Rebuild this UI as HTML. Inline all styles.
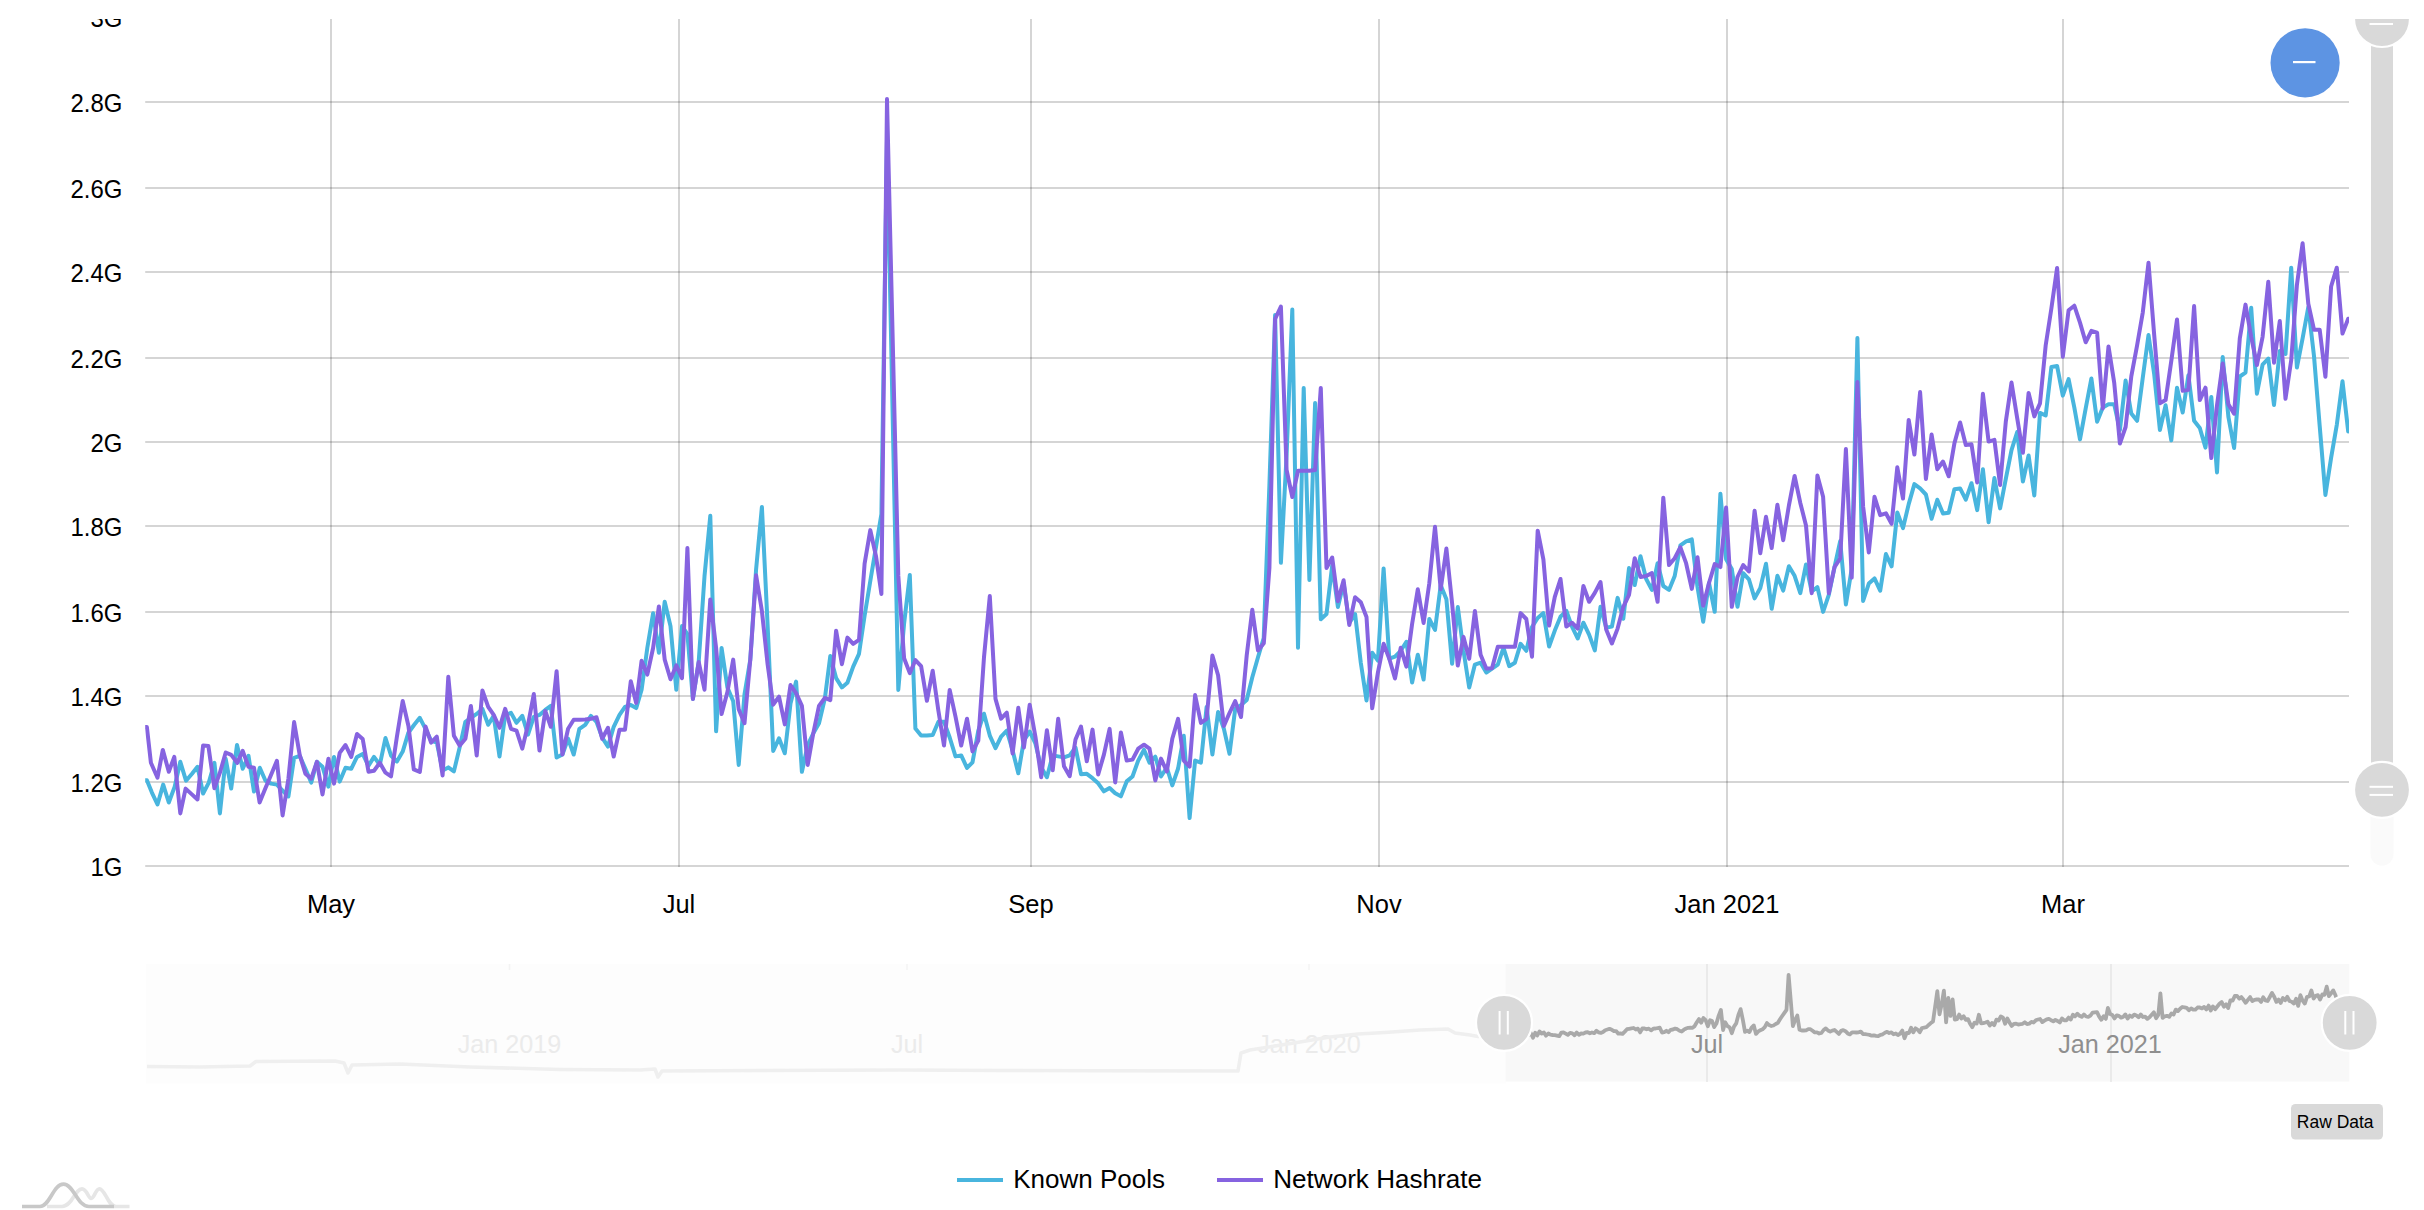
<!DOCTYPE html>
<html><head><meta charset="utf-8"><title>Hashrate chart</title>
<style>
html,body{margin:0;padding:0;background:#fff;}
body{width:2424px;height:1210px;overflow:hidden;position:relative;font-family:"Liberation Sans",sans-serif;}
svg{position:absolute;left:0;top:0;display:block;}
text{font-family:"Liberation Sans",sans-serif;}
.ax text{font-size:26.4px;fill:#000;}
.grid line{stroke:#000;stroke-opacity:0.165;stroke-width:2;}
</style></head><body>
<svg width="2424" height="1210" viewBox="0 0 2424 1210">
<defs>
<clipPath id="plot"><rect x="145.2" y="19" width="2203.8" height="848"/></clipPath>
<clipPath id="top"><rect x="0" y="19" width="2424" height="1191"/></clipPath>
</defs>
<rect x="0" y="0" width="2424" height="1210" fill="#fff"/>
<g clip-path="url(#top)">
<g class="grid"><line x1="145.2" x2="2349" y1="866" y2="866"/><line x1="145.2" x2="2349" y1="782" y2="782"/><line x1="145.2" x2="2349" y1="696" y2="696"/><line x1="145.2" x2="2349" y1="612" y2="612"/><line x1="145.2" x2="2349" y1="526" y2="526"/><line x1="145.2" x2="2349" y1="442" y2="442"/><line x1="145.2" x2="2349" y1="358" y2="358"/><line x1="145.2" x2="2349" y1="272" y2="272"/><line x1="145.2" x2="2349" y1="188" y2="188"/><line x1="145.2" x2="2349" y1="102" y2="102"/><line x1="331" x2="331" y1="19" y2="867"/><line x1="679" x2="679" y1="19" y2="867"/><line x1="1031" x2="1031" y1="19" y2="867"/><line x1="1379" x2="1379" y1="19" y2="867"/><line x1="1727" x2="1727" y1="19" y2="867"/><line x1="2063" x2="2063" y1="19" y2="867"/></g>
<g class="ax"><text transform="translate(122.4,875.9) scale(0.907,1)" text-anchor="end">1G</text><text transform="translate(122.4,791.9) scale(0.907,1)" text-anchor="end">1.2G</text><text transform="translate(122.4,705.9) scale(0.907,1)" text-anchor="end">1.4G</text><text transform="translate(122.4,621.9) scale(0.907,1)" text-anchor="end">1.6G</text><text transform="translate(122.4,535.9) scale(0.907,1)" text-anchor="end">1.8G</text><text transform="translate(122.4,451.9) scale(0.907,1)" text-anchor="end">2G</text><text transform="translate(122.4,367.9) scale(0.907,1)" text-anchor="end">2.2G</text><text transform="translate(122.4,281.9) scale(0.907,1)" text-anchor="end">2.4G</text><text transform="translate(122.4,197.9) scale(0.907,1)" text-anchor="end">2.6G</text><text transform="translate(122.4,111.9) scale(0.907,1)" text-anchor="end">2.8G</text><text transform="translate(122.4,27.3) scale(0.907,1)" text-anchor="end">3G</text><text transform="translate(331,912.7) scale(0.965,1)" text-anchor="middle">May</text><text transform="translate(679,912.7) scale(0.965,1)" text-anchor="middle">Jul</text><text transform="translate(1031,912.7) scale(0.965,1)" text-anchor="middle">Sep</text><text transform="translate(1379,912.7) scale(0.965,1)" text-anchor="middle">Nov</text><text transform="translate(1727,912.7) scale(0.965,1)" text-anchor="middle">Jan 2021</text><text transform="translate(2063,912.7) scale(0.965,1)" text-anchor="middle">Mar</text></g>
<g clip-path="url(#plot)" fill="none" stroke-linejoin="round" stroke-linecap="round" stroke-width="4">
<polyline stroke="#48b5de" points="145.0,780.3 146.9,780.3 151.9,792.6 157.5,804.5 163.2,784.6 168.8,802.5 174.7,786.6 180.3,761.8 186.0,780.7 192.0,773.7 197.5,766.8 203.1,793.5 208.8,782.6 214.4,762.8 219.9,813.4 225.7,758.8 231.2,788.6 237.0,745.0 242.7,768.8 248.5,755.9 254.0,791.6 259.8,767.8 265.5,780.7 271.1,783.6 276.9,784.6 282.6,790.6 288.4,796.5 294.1,757.8 299.7,755.9 305.4,768.8 311.2,782.6 316.9,761.8 322.5,766.8 328.4,786.6 334.0,756.9 339.7,781.6 345.5,767.8 351.2,768.8 357.0,756.9 362.7,753.9 368.5,765.8 374.0,756.9 379.8,764.8 385.5,738.0 391.0,755.5 396.9,761.5 402.7,751.6 408.4,732.7 414.2,724.8 419.8,717.8 425.5,728.8 431.1,740.7 436.8,742.6 442.6,770.4 448.3,767.4 453.9,771.4 459.6,747.6 465.4,721.8 470.9,717.8 476.7,713.9 482.4,708.9 488.2,724.8 493.7,715.9 499.5,756.5 505.2,714.9 511.0,712.9 516.5,722.8 522.3,715.9 528.0,734.7 533.8,716.9 539.5,714.9 545.3,709.9 550.8,705.9 556.6,757.5 562.4,754.5 568.1,738.7 573.7,754.5 579.4,728.8 585.2,724.8 590.9,715.9 596.5,721.8 602.2,737.7 608.0,746.6 613.7,726.8 619.5,714.9 625.0,706.9 630.8,705.0 636.2,708.1 641.6,689.7 647.3,648.0 653.1,613.3 658.9,652.7 664.7,601.8 670.5,626.1 676.3,689.7 682.0,626.1 687.4,634.2 692.9,698.9 698.7,661.9 704.5,576.3 710.3,515.7 716.1,731.3 721.6,648.0 727.4,687.4 733.2,701.2 738.7,764.9 744.5,694.3 750.3,659.6 756.1,569.4 761.9,506.9 767.6,624.9 773.2,751.0 779.0,738.3 784.8,753.3 790.5,703.6 796.1,681.6 801.9,771.8 807.7,745.2 813.2,733.6 819.0,723.2 824.8,698.9 830.3,656.1 836.1,678.1 841.9,687.4 847.4,682.7 853.2,666.6 859.0,653.8 864.6,615.7 870.3,581.0 876.1,546.3 881.4,514.0 887.0,140.0 898.3,689.9 904.1,623.5 909.8,574.9 915.4,728.6 921.1,735.6 926.9,735.6 932.7,735.0 938.4,721.7 944.0,721.7 949.7,737.5 955.5,756.4 961.2,755.4 967.0,767.9 972.5,762.3 978.3,730.6 984.0,713.7 989.8,735.6 995.5,748.1 1001.1,736.6 1006.8,730.6 1012.6,750.4 1018.3,773.3 1023.9,740.5 1029.7,731.6 1035.4,743.5 1041.2,767.3 1046.9,777.2 1052.7,755.4 1058.2,756.4 1064.0,757.4 1069.7,755.4 1075.5,747.5 1081.0,774.2 1086.8,773.8 1092.5,778.2 1098.2,783.3 1103.9,791.3 1109.6,788.0 1115.2,793.3 1120.9,796.3 1126.7,781.4 1132.5,776.5 1138.2,760.6 1144.0,749.7 1149.5,762.6 1155.3,756.6 1161.0,776.5 1166.8,767.5 1172.3,785.4 1178.1,768.5 1183.8,735.8 1189.6,818.1 1195.1,760.6 1200.9,762.6 1206.6,707.0 1212.4,754.6 1218.1,712.0 1223.9,728.9 1229.5,753.7 1235.2,709.0 1241.0,705.1 1246.7,700.1 1252.3,677.3 1258.0,657.2 1263.7,638.0 1269.4,485.0 1275.1,315.0 1280.9,562.8 1286.6,455.0 1292.3,309.6 1298.0,647.8 1303.7,388.0 1309.4,580.0 1315.1,403.0 1320.8,619.2 1326.5,614.0 1332.2,565.5 1337.9,607.1 1343.6,583.3 1349.3,623.0 1355.1,614.1 1360.8,662.7 1366.5,700.4 1372.2,652.7 1377.9,660.7 1383.6,568.4 1389.3,658.7 1395.0,656.7 1400.7,650.8 1406.4,641.8 1412.1,682.5 1417.8,654.7 1423.6,679.5 1429.3,619.0 1435.0,629.9 1440.7,585.3 1446.4,599.2 1452.1,663.7 1457.8,607.1 1463.5,650.8 1469.2,687.5 1474.9,664.6 1480.6,662.7 1486.3,672.6 1492.0,668.6 1497.8,664.6 1503.5,647.8 1509.2,666.2 1514.9,662.7 1520.6,643.8 1526.3,650.8 1532.0,627.0 1537.7,618.0 1543.4,613.1 1549.1,646.5 1554.8,630.6 1560.5,616.7 1566.3,610.8 1572.0,626.6 1577.7,638.5 1583.4,622.7 1589.1,634.6 1594.8,650.4 1600.5,606.8 1606.2,627.6 1611.9,626.6 1617.6,597.9 1623.3,618.7 1629.0,568.1 1634.7,585.0 1640.5,556.2 1646.2,579.0 1651.9,589.9 1657.6,563.2 1663.3,586.0 1669.0,589.9 1674.7,576.0 1680.4,545.3 1686.1,541.3 1691.8,539.3 1697.5,587.0 1703.2,621.7 1709.0,583.0 1714.7,611.8 1720.4,493.7 1726.1,559.2 1731.8,569.1 1737.5,606.8 1743.2,573.1 1748.9,579.3 1754.6,598.4 1760.3,588.0 1766.0,563.7 1771.7,608.8 1777.4,575.8 1783.2,590.6 1788.9,566.3 1794.6,575.8 1800.3,593.2 1806.0,564.5 1811.7,591.5 1817.4,587.1 1823.1,611.9 1828.8,594.9 1834.5,567.2 1840.2,541.1 1845.9,604.5 1851.7,568.9 1857.4,338.0 1863.1,601.0 1868.8,583.6 1874.5,578.4 1880.2,590.6 1885.9,554.1 1891.6,566.3 1897.3,512.5 1903.0,528.1 1908.7,504.1 1914.4,484.1 1920.1,488.4 1925.9,494.5 1931.6,518.8 1937.3,499.7 1943.0,513.6 1948.7,512.7 1954.4,489.3 1960.1,488.4 1965.8,499.7 1971.5,483.2 1977.2,510.1 1982.9,469.3 1988.6,522.3 1994.4,478.0 2000.1,508.4 2005.8,478.9 2011.5,450.2 2017.2,432.0 2022.9,481.5 2028.6,455.5 2034.3,495.4 2040.0,412.9 2045.7,415.5 2051.4,366.9 2057.1,366.0 2062.8,395.6 2068.6,379.1 2074.3,407.4 2080.0,439.4 2085.7,408.4 2091.4,378.4 2097.1,421.8 2102.8,407.4 2108.5,404.3 2114.2,404.3 2119.9,430.1 2125.6,380.5 2131.3,413.6 2137.1,420.8 2142.8,377.4 2148.5,335.0 2154.2,374.3 2159.9,430.1 2165.6,405.3 2171.3,440.4 2177.0,387.7 2182.7,412.5 2188.4,375.3 2194.1,420.8 2199.8,428.0 2205.5,447.6 2211.3,397.0 2217.0,472.4 2222.7,357.0 2228.4,416.9 2234.1,448.0 2239.8,376.5 2245.5,372.6 2251.2,307.7 2256.9,393.7 2262.6,364.6 2268.3,358.5 2274.0,405.0 2279.8,351.0 2285.5,354.0 2291.2,267.7 2296.9,367.5 2302.6,338.3 2308.3,307.0 2314.0,356.0 2319.7,426.0 2325.4,494.9 2331.1,457.9 2336.8,424.8 2342.5,381.2 2348.2,431.4"/>
<polyline stroke="#8663e0" points="145.0,727.1 146.9,727.1 150.9,762.8 157.5,777.7 162.8,749.9 168.8,771.7 174.3,756.9 180.3,813.4 185.6,788.6 191.6,794.1 197.5,799.5 203.1,745.5 208.4,746.1 214.4,788.2 219.9,772.7 225.7,752.5 231.2,754.9 237.2,762.8 242.7,750.9 248.5,766.8 254.0,767.8 259.6,802.5 265.3,788.6 271.1,774.7 276.9,760.8 282.6,815.4 288.4,778.7 294.1,722.1 299.7,754.9 305.4,773.7 311.2,778.7 316.9,761.8 322.5,794.5 328.4,758.8 334.0,783.6 339.7,752.9 345.5,745.0 351.2,756.9 357.0,734.0 362.7,739.0 368.5,771.7 374.0,770.7 379.8,762.8 385.5,772.7 391.0,776.4 396.9,736.7 402.7,701.0 408.4,725.8 413.8,769.4 419.8,772.0 425.5,726.4 431.1,742.6 436.8,736.7 442.6,775.4 448.3,676.8 453.9,735.7 459.6,745.6 465.4,738.7 470.9,705.9 476.7,755.5 482.4,690.5 488.2,706.9 493.7,714.9 499.5,727.8 505.2,708.9 511.0,728.8 516.5,730.7 522.3,748.6 528.0,724.8 533.8,694.0 539.5,750.6 545.3,710.9 550.8,726.8 556.6,671.2 562.4,754.5 568.1,728.8 573.7,719.8 579.4,719.8 585.2,719.4 590.9,718.8 596.5,717.2 602.2,738.7 608.0,727.8 613.7,756.5 619.5,729.7 625.0,729.7 630.8,681.2 636.2,702.9 641.6,660.8 647.3,674.6 653.1,648.0 658.9,606.4 664.7,659.6 670.5,679.3 676.3,665.4 682.0,678.1 687.4,548.1 692.9,698.9 698.7,661.9 704.5,689.7 710.3,599.5 716.1,648.0 721.6,714.0 727.4,692.0 733.2,659.6 738.7,709.3 744.5,723.2 750.3,659.6 756.1,575.2 761.9,611.0 767.6,664.2 773.2,704.7 779.0,696.6 784.8,724.4 790.5,685.1 796.1,693.2 801.9,705.9 807.7,764.9 813.2,733.6 819.0,705.9 824.8,697.8 830.3,700.1 836.1,630.7 841.9,664.2 847.4,637.6 853.2,643.9 859.0,639.9 864.6,563.6 870.3,530.1 876.1,556.7 881.4,594.0 887.0,99.0 898.3,575.9 904.1,658.2 909.8,673.1 915.4,660.2 921.1,666.1 926.9,700.8 932.7,670.7 938.4,710.8 944.0,745.5 949.7,689.9 955.5,716.7 961.2,745.5 967.0,718.7 972.5,751.4 978.3,740.5 984.0,657.2 989.8,596.1 995.5,698.9 1001.1,718.7 1006.8,712.7 1012.6,753.4 1018.3,707.8 1023.9,747.5 1029.7,704.8 1035.4,736.6 1041.2,777.2 1046.9,730.2 1052.7,770.3 1058.2,718.7 1064.0,766.3 1069.7,776.2 1075.5,739.5 1081.0,726.6 1086.8,761.3 1092.5,729.6 1098.2,774.4 1103.9,754.6 1109.6,728.9 1115.2,782.4 1120.9,732.4 1126.7,760.6 1132.5,759.6 1138.2,748.7 1144.0,744.7 1149.5,748.7 1155.3,780.4 1161.0,758.6 1166.8,771.5 1172.3,738.8 1178.1,718.9 1183.8,760.6 1189.6,766.6 1195.1,695.1 1200.9,722.9 1206.6,718.9 1212.4,655.5 1218.1,675.3 1223.9,725.9 1229.5,713.0 1235.2,701.1 1241.0,717.0 1246.7,655.5 1252.3,609.8 1258.0,650.5 1263.8,643.3 1269.4,568.0 1275.1,319.0 1280.9,306.5 1286.6,470.0 1292.3,497.0 1298.0,470.8 1303.7,470.8 1309.4,470.8 1315.1,470.0 1320.8,388.0 1326.5,568.0 1332.2,557.5 1337.9,601.2 1343.6,580.3 1349.3,625.0 1355.1,597.2 1360.8,602.2 1366.5,617.0 1372.2,708.3 1377.9,672.6 1383.6,643.8 1389.3,658.7 1395.0,678.5 1400.7,647.8 1406.4,666.6 1412.1,624.0 1417.8,589.3 1423.6,623.0 1429.3,583.3 1435.0,526.8 1440.7,589.3 1446.4,548.6 1452.1,603.2 1457.8,665.6 1463.5,636.9 1469.2,658.7 1474.9,611.1 1480.6,654.7 1486.3,668.6 1492.0,668.2 1497.8,646.8 1503.5,646.8 1509.2,646.8 1514.9,646.8 1520.6,613.1 1526.3,619.0 1532.0,656.7 1537.7,530.7 1543.4,559.5 1549.1,625.6 1554.8,596.9 1560.5,579.0 1566.3,626.6 1572.0,622.7 1577.7,628.6 1583.4,586.0 1589.1,601.8 1594.8,592.9 1600.5,582.0 1606.2,629.6 1611.9,643.5 1617.6,628.6 1623.3,606.8 1629.0,594.9 1634.7,558.2 1640.5,577.0 1646.2,576.0 1651.9,573.1 1657.6,601.8 1663.3,497.7 1669.0,565.1 1674.7,558.2 1680.4,547.3 1686.1,563.2 1691.8,588.9 1697.5,557.2 1703.2,605.8 1709.0,583.0 1714.7,564.1 1720.4,567.1 1726.1,507.6 1731.8,606.8 1737.5,577.0 1743.2,565.1 1748.9,571.5 1754.6,510.7 1760.3,553.3 1766.0,516.8 1771.7,548.1 1777.4,504.7 1783.2,540.2 1788.9,505.5 1794.6,476.0 1800.3,502.9 1806.0,525.5 1811.7,593.2 1817.4,475.5 1823.1,496.8 1828.8,593.2 1834.5,567.2 1840.2,558.5 1845.9,449.1 1851.7,577.6 1857.4,382.1 1863.1,506.4 1868.8,552.4 1874.5,496.8 1880.2,515.1 1885.9,513.3 1891.6,523.8 1897.3,467.3 1903.0,498.6 1908.7,419.9 1914.4,454.6 1920.1,392.1 1925.9,478.9 1931.6,434.6 1937.3,469.3 1943.0,461.5 1948.7,476.3 1954.4,443.3 1960.1,422.5 1965.8,445.0 1971.5,444.2 1977.2,482.4 1982.9,393.8 1988.6,441.6 1994.4,439.8 2000.1,485.0 2005.8,421.6 2011.5,382.5 2017.2,418.1 2022.9,452.8 2028.6,393.0 2034.3,416.4 2040.0,403.4 2045.7,345.2 2051.4,308.2 2057.1,267.9 2062.8,356.7 2068.6,310.2 2074.3,305.7 2080.0,322.6 2085.7,342.3 2091.4,330.9 2097.1,332.6 2102.8,408.4 2108.5,346.4 2114.2,382.6 2119.9,443.5 2125.6,427.0 2131.3,376.4 2137.1,345.4 2142.8,312.3 2148.5,262.7 2154.2,335.0 2159.9,403.2 2165.6,400.1 2171.3,360.9 2177.0,319.5 2182.7,390.8 2188.4,389.8 2194.1,306.1 2199.8,400.1 2205.5,387.7 2211.3,458.0 2217.0,405.3 2222.7,363.5 2228.4,404.3 2234.1,413.7 2239.8,338.3 2245.5,304.6 2251.2,336.8 2256.9,365.0 2262.6,336.8 2268.3,281.8 2274.0,362.7 2279.8,321.1 2285.5,398.8 2291.2,360.3 2296.9,285.0 2302.6,243.3 2308.3,303.8 2314.0,329.7 2319.7,329.7 2325.4,376.8 2331.1,286.5 2336.8,267.7 2342.5,333.6 2348.2,318.7"/>
</g>
<!-- zoom out button -->
<circle cx="2305.1" cy="62.8" r="34.6" fill="#5d94e3"/>
<rect x="2293" y="61" width="22.5" height="2.2" fill="#fff"/>
<!-- vertical scrollbar -->
<rect x="2370.5" y="780" width="23" height="85.5" rx="11.5" fill="#fafafa"/>
<rect x="2371" y="19" width="22" height="771" fill="#d9d9d9"/>
<circle cx="2382" cy="19" r="28" fill="#d9d9d9" stroke="#fff" stroke-width="2.2"/>
<rect x="2369.5" y="23" width="23.5" height="2" fill="#fff"/>
<circle cx="2382" cy="789.8" r="28" fill="#d9d9d9" stroke="#fff" stroke-width="2.2"/>
<rect x="2369.5" y="785.8" width="23.5" height="2" fill="#fff"/>
<rect x="2369.5" y="793.9" width="23.5" height="2" fill="#fff"/>
</g>
<!-- horizontal scrollbar -->
<rect x="146" y="964" width="1360" height="119.5" fill="#fdfdfd"/>
<rect x="1505.6" y="964" width="843.7" height="117.6" fill="#f8f8f8"/>
<g stroke="#ededed" stroke-width="1.5"><line x1="1707" x2="1707" y1="964" y2="1082" stroke="#e6e6e6"/><line x1="2111" x2="2111" y1="964" y2="1082" stroke="#e6e6e6"/>
<line x1="509.5" x2="509.5" y1="964" y2="970" stroke="#f3f3f3"/><line x1="907" x2="907" y1="964" y2="970" stroke="#f3f3f3"/><line x1="1309" x2="1309" y1="964" y2="970" stroke="#f3f3f3"/></g>
<g font-size="25.2px" text-anchor="middle">
<text x="509.5" y="1052.5" fill="#ebebeb">Jan 2019</text>
<text x="907" y="1052.5" fill="#ebebeb">Jul</text>
<text x="1309" y="1052.5" fill="#ebebeb">Jan 2020</text>
<text x="1707" y="1052.5" fill="#8f8f8f">Jul</text>
<text x="2110" y="1052.5" fill="#8f8f8f">Jan 2021</text>
</g>
<polyline fill="none" stroke="#efefef" stroke-width="3.6" stroke-linejoin="round" points="147.0,1066.5 200.0,1067.0 250.0,1066.0 256.0,1061.5 335.0,1061.0 344.0,1063.0 348.0,1073.0 352.0,1065.0 400.0,1064.0 470.0,1067.0 560.0,1069.5 640.0,1070.0 655.0,1069.0 658.0,1077.0 662.0,1071.0 760.0,1070.5 900.0,1070.0 1000.0,1070.5 1100.0,1070.8 1238.0,1071.0 1241.0,1053.0 1250.0,1050.0 1275.0,1046.0 1300.0,1042.0 1330.0,1037.0 1358.0,1034.0 1385.0,1032.5 1420.0,1030.0 1448.0,1029.0 1455.0,1033.0 1470.0,1035.0 1478.0,1036.5 1490.0,1036.0 1504.0,1038.0"/>
<polyline fill="none" stroke="#a9a9a9" stroke-width="3.8" stroke-linejoin="round" stroke-linecap="round" points="1505.0,1034.7 1506.9,1035.8 1509.0,1036.9 1511.2,1035.1 1513.4,1036.7 1515.6,1035.2 1517.8,1032.9 1520.0,1034.7 1522.3,1034.0 1524.4,1033.4 1526.5,1035.9 1528.7,1034.9 1530.8,1033.0 1533.0,1037.8 1535.2,1032.7 1537.3,1035.4 1539.5,1031.4 1541.7,1033.6 1543.9,1032.4 1546.0,1035.7 1548.3,1033.5 1550.5,1034.7 1552.6,1035.0 1554.8,1035.1 1557.0,1035.6 1559.2,1036.2 1561.4,1032.6 1563.5,1032.4 1565.7,1033.6 1567.9,1034.9 1570.1,1032.9 1572.3,1033.4 1574.5,1035.2 1576.7,1032.5 1578.9,1034.8 1581.1,1033.5 1583.3,1033.6 1585.5,1032.5 1587.7,1032.2 1589.9,1033.3 1592.0,1032.5 1594.2,1033.2 1596.4,1030.7 1598.5,1032.3 1600.8,1032.9 1603.0,1032.0 1605.2,1030.2 1607.4,1029.5 1609.5,1028.8 1611.8,1029.8 1613.9,1031.0 1616.1,1031.1 1618.3,1033.7 1620.5,1033.5 1622.6,1033.8 1624.8,1031.6 1627.0,1029.2 1629.2,1028.8 1631.4,1028.4 1633.6,1028.0 1635.8,1029.5 1637.9,1028.6 1640.1,1032.4 1642.3,1028.5 1644.5,1028.4 1646.6,1029.3 1648.8,1028.6 1651.0,1030.4 1653.2,1028.7 1655.5,1028.5 1657.7,1028.1 1659.8,1027.7 1662.0,1032.5 1664.2,1032.2 1666.4,1030.8 1668.5,1032.2 1670.7,1029.8 1672.9,1029.5 1675.1,1028.6 1677.3,1029.2 1679.5,1030.7 1681.7,1031.5 1683.9,1029.7 1686.1,1028.5 1688.2,1027.8 1690.4,1027.6 1692.5,1027.9 1694.5,1026.2 1696.8,1022.3 1699.0,1019.0 1701.2,1022.7 1703.4,1018.0 1705.6,1020.2 1707.8,1026.2 1710.1,1020.2 1712.1,1021.0 1714.2,1027.1 1716.4,1023.6 1718.7,1015.6 1720.9,1009.9 1723.1,1030.1 1725.2,1022.3 1727.4,1026.0 1729.7,1027.3 1731.8,1033.2 1734.0,1026.6 1736.2,1023.4 1738.4,1014.9 1740.6,1009.1 1742.9,1020.1 1745.0,1031.9 1747.2,1030.7 1749.4,1032.1 1751.6,1027.5 1753.8,1025.4 1756.0,1033.9 1758.2,1031.4 1760.3,1030.3 1762.5,1029.3 1764.8,1027.1 1766.9,1023.0 1769.1,1025.1 1771.3,1026.0 1773.4,1025.5 1775.7,1024.0 1777.9,1022.8 1780.0,1019.3 1782.2,1016.0 1784.4,1012.8 1786.5,1009.8 1788.6,974.8 1792.9,1026.2 1795.1,1020.0 1797.3,1015.5 1799.5,1029.8 1801.7,1030.5 1803.9,1030.5 1806.1,1030.4 1808.3,1029.2 1810.4,1029.2 1812.6,1030.7 1814.8,1032.4 1817.0,1032.3 1819.2,1033.5 1821.4,1033.0 1823.6,1030.0 1825.8,1028.4 1828.0,1030.5 1830.2,1031.6 1832.3,1030.6 1834.5,1030.0 1836.7,1031.9 1838.9,1034.0 1841.1,1030.9 1843.3,1030.1 1845.5,1031.2 1847.7,1033.4 1849.9,1034.4 1852.1,1032.3 1854.2,1032.4 1856.4,1032.5 1858.6,1032.3 1860.8,1031.6 1863.0,1034.1 1865.2,1034.1 1867.4,1034.5 1869.5,1034.9 1871.7,1035.7 1873.9,1035.4 1876.0,1035.9 1878.2,1036.2 1880.5,1034.8 1882.7,1034.3 1884.9,1032.8 1887.1,1031.8 1889.2,1033.0 1891.4,1032.4 1893.6,1034.3 1895.8,1033.5 1897.9,1035.1 1900.1,1033.6 1902.3,1030.5 1904.5,1038.2 1906.7,1032.8 1908.9,1033.0 1911.1,1027.8 1913.3,1032.3 1915.5,1028.3 1917.7,1029.8 1919.8,1032.2 1922.0,1028.0 1924.2,1027.6 1926.4,1027.2 1928.6,1025.0 1930.8,1023.1 1933.0,1021.4 1935.1,1007.0 1937.3,991.2 1939.5,1014.3 1941.7,1004.2 1943.9,990.6 1946.1,1022.3 1948.3,998.0 1950.5,1015.9 1952.6,999.4 1954.8,1019.6 1957.0,1019.1 1959.2,1014.6 1961.4,1018.5 1963.6,1016.2 1965.8,1019.9 1968.0,1019.1 1970.1,1023.7 1972.3,1027.2 1974.5,1022.7 1976.7,1023.5 1978.9,1014.8 1981.1,1023.3 1983.3,1023.1 1985.5,1022.5 1987.6,1021.7 1989.8,1025.5 1992.0,1022.9 1994.2,1025.2 1996.4,1019.6 1998.6,1020.6 2000.8,1016.4 2003.0,1017.7 2005.1,1023.8 2007.3,1018.5 2009.5,1022.5 2011.7,1026.0 2013.9,1023.8 2016.1,1023.7 2018.3,1024.6 2020.5,1024.2 2022.6,1023.8 2024.8,1022.3 2027.0,1024.0 2029.2,1023.7 2031.4,1021.9 2033.6,1022.5 2035.8,1020.3 2038.0,1019.5 2040.1,1019.0 2042.3,1022.1 2044.5,1020.7 2046.7,1019.4 2048.9,1018.8 2051.1,1020.3 2053.3,1021.4 2055.4,1019.9 2057.6,1021.0 2059.8,1022.5 2062.0,1018.4 2064.2,1020.4 2066.4,1020.3 2068.6,1017.6 2070.8,1019.5 2072.9,1014.8 2075.1,1016.4 2077.3,1013.7 2079.5,1015.8 2081.7,1016.9 2083.9,1014.4 2086.1,1016.5 2088.3,1016.9 2090.4,1015.6 2092.6,1012.7 2094.8,1012.3 2097.0,1012.1 2099.2,1016.6 2101.4,1019.8 2103.6,1016.2 2105.8,1018.9 2107.9,1007.9 2110.1,1014.0 2112.3,1014.9 2114.5,1018.4 2116.7,1015.3 2118.9,1015.9 2121.1,1017.7 2123.3,1016.7 2125.4,1014.4 2127.6,1018.6 2129.8,1015.5 2132.0,1016.9 2134.2,1014.6 2136.4,1015.5 2138.6,1017.2 2140.8,1014.5 2142.9,1017.0 2145.1,1016.6 2147.3,1018.9 2149.5,1017.3 2151.7,1014.7 2153.9,1012.3 2156.1,1018.2 2158.3,1014.9 2160.4,993.3 2162.6,1017.9 2164.8,1016.3 2167.0,1015.8 2169.2,1016.9 2171.4,1013.5 2173.6,1014.6 2175.8,1009.6 2177.9,1011.1 2180.1,1008.8 2182.3,1007.0 2184.5,1007.4 2186.7,1007.9 2188.9,1010.2 2191.1,1008.4 2193.2,1009.7 2195.4,1009.6 2197.6,1007.5 2199.8,1007.4 2202.0,1008.4 2204.2,1006.9 2206.4,1009.4 2208.6,1005.6 2210.7,1010.5 2212.9,1006.4 2215.1,1009.2 2217.3,1006.5 2219.5,1003.8 2221.7,1002.1 2223.9,1006.7 2226.1,1004.3 2228.2,1008.0 2230.4,1000.3 2232.6,1000.6 2234.8,996.0 2237.0,995.9 2239.2,998.7 2241.4,997.1 2243.6,999.8 2245.7,1002.8 2247.9,999.9 2250.1,997.1 2252.3,1001.1 2254.5,999.8 2256.7,999.5 2258.9,999.5 2261.1,1001.9 2263.2,997.3 2265.4,1000.4 2267.6,1001.0 2269.8,997.0 2272.0,993.0 2274.2,996.7 2276.4,1001.9 2278.6,999.6 2280.7,1002.9 2282.9,998.0 2285.1,1000.3 2287.3,996.8 2289.5,1001.0 2291.7,1001.7 2293.9,1003.6 2296.1,998.8 2298.2,1005.9 2300.4,995.1 2302.6,1000.7 2304.8,1003.6 2307.0,996.9 2309.2,996.5 2311.4,990.5 2313.6,998.5 2315.7,995.8 2317.9,995.2 2320.1,999.6 2322.3,994.5 2324.5,994.8 2326.7,986.7 2328.9,996.1 2331.1,993.3 2333.2,990.4 2335.4,995.0 2337.6,1001.5 2339.8,1008.0 2342.0,1004.5 2344.2,1001.4 2346.4,997.3 2348.5,1002.0"/>
<g>
<circle cx="1504" cy="1022.8" r="28" fill="#d9d9d9" stroke="#fff" stroke-width="2.2"/>
<rect x="1498.6" y="1011" width="2" height="23.5" fill="#fff"/><rect x="1506.8" y="1011" width="2" height="23.5" fill="#fff"/>
<circle cx="2349.7" cy="1022.8" r="28" fill="#d9d9d9" stroke="#fff" stroke-width="2.2"/>
<rect x="2344.3" y="1011" width="2" height="23.5" fill="#fff"/><rect x="2352.5" y="1011" width="2" height="23.5" fill="#fff"/>
</g>
<!-- raw data button -->
<rect x="2291" y="1104" width="92" height="35.5" rx="4.5" fill="#d9d9d9"/>
<text x="2335.2" y="1127.6" font-size="17.5px" text-anchor="middle" fill="#000">Raw Data</text>
<!-- legend -->
<rect x="957" y="1178" width="46" height="4" fill="#48b5de"/>
<text x="1013.2" y="1188" font-size="26px" fill="#000">Known Pools</text>
<rect x="1217" y="1178" width="46" height="4" fill="#8663e0"/>
<text x="1273.2" y="1188" font-size="26.1px" fill="#000">Network Hashrate</text>
<!-- amcharts logo -->
<g fill="none" stroke-width="3.7" stroke-linecap="butt">
<path d="M47,1206.5 L62,1206.5 C72,1206.5 75,1188.8 82,1188.8 C87,1188.8 88,1198.3 91.2,1198.3 C94.5,1198.3 95.5,1188.8 99.5,1188.8 C105,1188.8 108,1206.5 116,1206.5 L129.5,1206.5" stroke="#e6e6e6"/>
<path d="M22,1206.5 L40,1206.5 C50,1206.5 53,1184.2 63.5,1184.2 C74,1184.2 77,1206.5 89,1206.5 L114,1206.5" stroke="#c8c8c8"/>
</g>
</svg>
</body></html>
